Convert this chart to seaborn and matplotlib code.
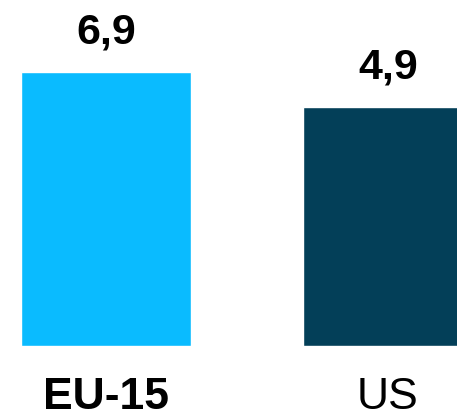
import matplotlib
matplotlib.use("Agg")
import matplotlib.pyplot as plt
import seaborn as sns
import pandas as pd

# values
regions = ["EU-15", "US"]
values = [6.9, 4.9]
value_labels = ["6,9", "4,9"]
bar_colors = ["#0ABBFF", "#033F58"]

# the bars don't start at zero in the original, so shift the baseline
base = -8.76

df = pd.DataFrame({"region": regions, "height": [v - base for v in values]})

sns.set_style("white")
plt.rcParams["font.family"] = ["Liberation Sans", "DejaVu Sans"]
plt.rcParams["text.color"] = "black"
plt.rcParams["xtick.color"] = "black"

fig = plt.figure(figsize=(4.57, 4.19), dpi=100)
ax = fig.add_axes([0, 0.174, 1, 0.826])

sns.barplot(data=df, x="region", y="height", hue="region", palette=bar_colors,
            width=0.603, bottom=base, legend=False, ax=ax, saturation=1)

for cont, lab in zip(ax.containers, value_labels):
    ax.bar_label(cont, labels=[lab], padding=14, fontsize=31, fontweight="bold",
                 color="black")

ax.set_xlim(-0.376, 1.245)
ax.set_ylim(base, 11.01)
ax.set_yticks([])
ax.set_xlabel("")
ax.set_ylabel("")
ax.tick_params(axis="x", length=0, pad=22, labelsize=32, labelcolor="black")
ax.get_xticklabels()[0].set_fontweight("bold")
sns.despine(ax=ax, left=True, bottom=True)

fig.savefig("out.png", dpi=100)
